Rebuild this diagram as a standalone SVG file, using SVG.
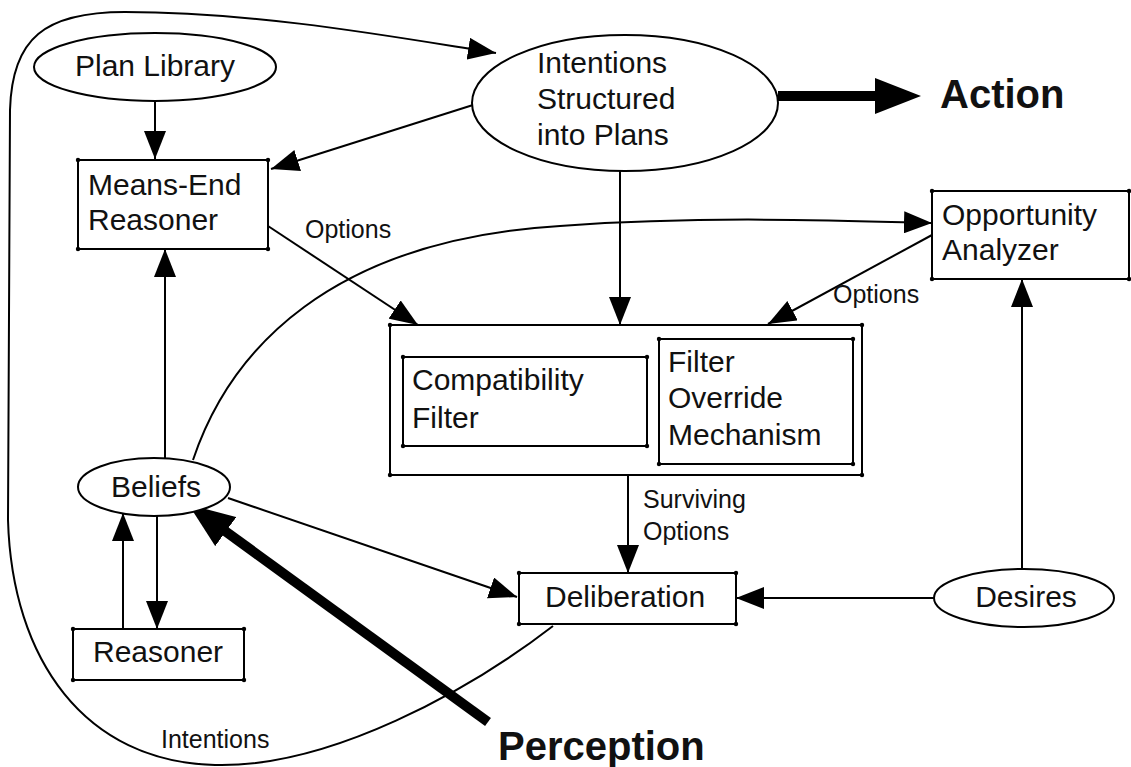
<svg xmlns="http://www.w3.org/2000/svg" width="1131" height="767" viewBox="0 0 1131 767">
  <style>
    .shape { fill: #fff; stroke: #000; stroke-width: 2; }
    .box { fill: #fff; stroke: #000; stroke-width: 2; marker-start: url(#dot); marker-mid: url(#dot); }
    .wire { fill: none; stroke: #000; stroke-width: 2; }
    .arrow { marker-end: url(#head); }
    .bold-wire { fill: none; stroke: #000; stroke-width: 10; marker-end: url(#bighead); }
    text { font-family: "Liberation Sans", Arial, sans-serif; fill: #111; }
    .node { font-size: 30px; }
    .label { font-size: 25px; }
    .io { font-size: 40px; font-weight: bold; }
  </style>
  <defs>
    <marker id="head" markerUnits="userSpaceOnUse" viewBox="0 0 28 22" refX="28" refY="11" markerWidth="28" markerHeight="22" orient="auto">
      <path d="M0,0 L28,11 L0,22 Z" fill="#000"/>
    </marker>
    <!-- heavy head sits beyond the end of its (shortened) thick line -->
    <marker id="bighead" markerUnits="userSpaceOnUse" viewBox="0 0 46 36" refX="1" refY="18" markerWidth="46" markerHeight="36" orient="auto">
      <path d="M0,0 L46,18 L0,36 Z" fill="#000"/>
    </marker>
    <marker id="dot" markerUnits="userSpaceOnUse" viewBox="0 0 6 6" refX="3" refY="3" markerWidth="6" markerHeight="6">
      <circle cx="3" cy="3" r="2.2" fill="#000"/>
    </marker>
  </defs>

  <!-- connectors -->
  <g id="connectors">
    <!-- outer loop: Deliberation back to the intention structure -->
    <path class="wire arrow" d="M553,626 C470,690 330,768 215,765 C85,762 12,660 8,520 L10,110 C12,38 45,12 125,12 C260,12 400,38 496,53"/>
    <!-- Plan Library to Means-End Reasoner -->
    <path class="wire arrow" d="M155,101 L155,159"/>
    <!-- Intentions to Means-End Reasoner -->
    <path class="wire arrow" d="M473,105 L271,169"/>
    <!-- Means-End Reasoner options into filtering -->
    <path class="wire arrow" d="M268,226 L418,325"/>
    <!-- Intentions into filtering -->
    <path class="wire arrow" d="M620,171 L620,325"/>
    <!-- Beliefs to Opportunity Analyzer -->
    <path class="wire arrow" d="M193,460 C230,350 330,240 560,226 C700,216 820,220 932,223"/>
    <!-- Opportunity Analyzer options into filtering -->
    <path class="wire arrow" d="M932,235 L768,324"/>
    <!-- Surviving options to Deliberation -->
    <path class="wire arrow" d="M628,475 L628,573"/>
    <!-- Desires to Deliberation -->
    <path class="wire arrow" d="M935,598 L736,598"/>
    <!-- Desires to Opportunity Analyzer -->
    <path class="wire arrow" d="M1022,569 L1022,279"/>
    <!-- Beliefs to Means-End Reasoner -->
    <path class="wire arrow" d="M165,458 L165,249"/>
    <!-- Beliefs to Deliberation -->
    <path class="wire arrow" d="M228,498 L517,597"/>
    <!-- Beliefs to Reasoner -->
    <path class="wire arrow" d="M157,516 L157,629"/>
    <!-- Reasoner to Beliefs -->
    <path class="wire arrow" d="M123,629 L123,513"/>
    <!-- Action out, Perception in -->
    <path class="bold-wire" d="M778,96 L876,96"/>
    <path class="bold-wire" d="M488,722 L225,531"/>
  </g>

  <g id="plan-library">
    <ellipse class="shape" cx="155" cy="67" rx="121" ry="34"/>
    <text class="node" x="155" y="76" text-anchor="middle">Plan Library</text>
  </g>

  <g id="intentions">
    <ellipse class="shape" cx="625" cy="103" rx="153" ry="68"/>
    <text class="node" x="537" y="73">Intentions</text>
    <text class="node" x="537" y="109">Structured</text>
    <text class="node" x="537" y="145">into Plans</text>
  </g>

  <g id="means-end-reasoner">
    <path class="box" d="M78,160 L268,160 L268,249 L78,249 Z"/>
    <text class="node" x="88" y="195">Means-End</text>
    <text class="node" x="88" y="230">Reasoner</text>
  </g>

  <g id="opportunity-analyzer">
    <path class="box" d="M932,191 L1129,191 L1129,279 L932,279 Z"/>
    <text class="node" x="942" y="225">Opportunity</text>
    <text class="node" x="942" y="260">Analyzer</text>
  </g>

  <g id="filtering">
    <path class="box" d="M390,325 L862,325 L862,475 L390,475 Z"/>
    <g id="compatibility-filter">
      <path class="box" d="M403,357 L647,357 L647,446 L403,446 Z"/>
      <text class="node" x="412" y="390">Compatibility</text>
      <text class="node" x="412" y="428">Filter</text>
    </g>
    <g id="filter-override">
      <path class="box" d="M659,339 L853,339 L853,464 L659,464 Z"/>
      <text class="node" x="668" y="372">Filter</text>
      <text class="node" x="668" y="408">Override</text>
      <text class="node" x="668" y="445">Mechanism</text>
    </g>
  </g>

  <g id="beliefs">
    <ellipse class="shape" cx="154" cy="487" rx="76" ry="29"/>
    <text class="node" x="156" y="497" text-anchor="middle">Beliefs</text>
  </g>

  <g id="reasoner">
    <path class="box" d="M73,629 L244,629 L244,680 L73,680 Z"/>
    <text class="node" x="93" y="662">Reasoner</text>
  </g>

  <g id="deliberation">
    <path class="box" d="M519,573 L736,573 L736,624 L519,624 Z"/>
    <text class="node" x="545" y="607">Deliberation</text>
  </g>

  <g id="desires">
    <ellipse class="shape" cx="1024" cy="598" rx="90" ry="29"/>
    <text class="node" x="1026" y="607" text-anchor="middle">Desires</text>
  </g>

  <g id="labels">
    <text class="label" x="305" y="238">Options</text>
    <text class="label" x="833" y="303">Options</text>
    <text class="label" x="643" y="508">Surviving</text>
    <text class="label" x="643" y="540">Options</text>
    <text class="label" x="161" y="748">Intentions</text>
    <text class="io" x="940" y="108">Action</text>
    <text class="io" x="498" y="760">Perception</text>
  </g>
</svg>
